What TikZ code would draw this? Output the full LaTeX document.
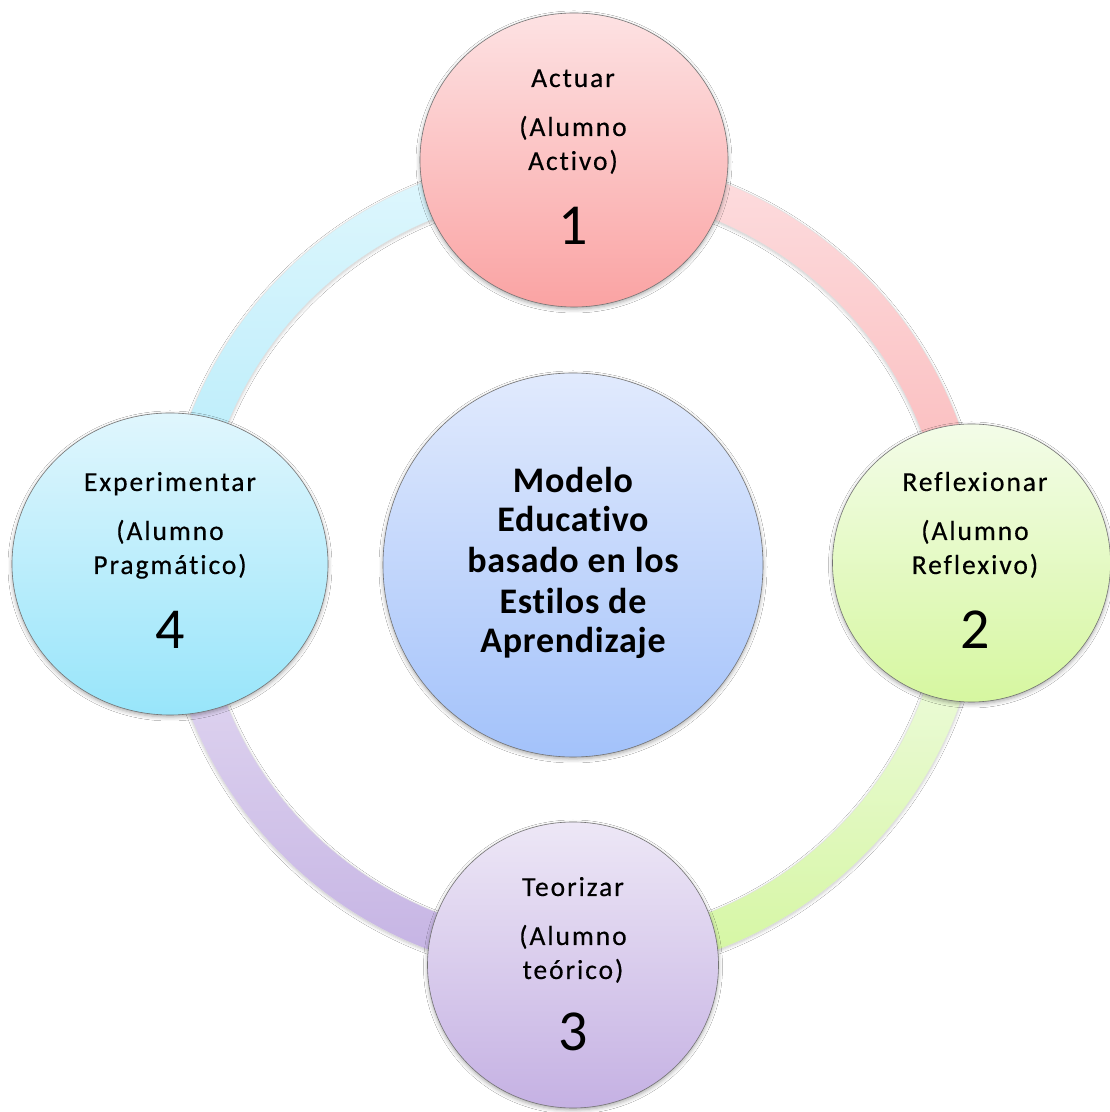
\documentclass[tikz,border=0pt]{standalone}
\usepackage{fontspec}
\setmainfont{Carlito}[Ligatures={NoCommon}]
\newfontfamily\lblfont[LetterSpace=7,FakeBold=0.4,Ligatures={NoCommon}]{Carlito}
\newfontfamily\ctrfont[LetterSpace=2,Ligatures={NoCommon}]{Carlito}
\usetikzlibrary{shapes.geometric,shadows.blur}
\definecolor{pinkT}{RGB}{253,226,227}
\definecolor{pinkB}{RGB}{250,163,163}
\definecolor{greenT}{RGB}{243,252,232}
\definecolor{greenB}{RGB}{214,247,160}
\definecolor{lilacT}{RGB}{237,231,246}
\definecolor{lilacB}{RGB}{197,177,227}
\definecolor{cyanT}{RGB}{224,246,253}
\definecolor{cyanB}{RGB}{152,229,250}
\definecolor{blueT}{RGB}{225,234,253}
\definecolor{blueB}{RGB}{163,194,250}
\definecolor{rpinkT}{RGB}{253,222,224}
\definecolor{rpinkB}{RGB}{250,180,181}
\definecolor{rgreenT}{RGB}{244,252,236}
\definecolor{rgreenB}{RGB}{212,246,160}
\definecolor{rlilacT}{RGB}{232,224,244}
\definecolor{rlilacB}{RGB}{196,178,227}
\definecolor{rcyanT}{RGB}{224,247,253}
\definecolor{rcyanB}{RGB}{176,234,250}
\begin{document}
\begin{tikzpicture}[x=1pt,y=1pt,
  bubble/.style={ellipse, inner sep=0pt, draw=black!55, line width=0.6pt,
    blur shadow={shadow xshift=0pt, shadow yshift=-2pt, shadow blur radius=4pt, shadow opacity=35}},
  ringseg/.style={draw=black!12, line width=0.4pt,
    blur shadow={shadow xshift=0pt, shadow yshift=-1.5pt, shadow blur radius=3pt, shadow opacity=22}},
  lbl/.style={anchor=base, text=black, font=\lblfont\fontsize{27.5}{30}\selectfont},
  num/.style={anchor=base, text=black, font=\fontsize{58}{60}\selectfont},
  ctr/.style={anchor=base, text=black, font=\ctrfont\bfseries\fontsize{36}{40}\selectfont}]
\fill[white] (0,0) rectangle (1110,1112);
\useasboundingbox (0,0) rectangle (1110,1112);
\coordinate (C) at (573,547);
% ring segments
\shade[ringseg, top color=rpinkT, bottom color=rpinkB]
  ([shift={(90:411)}]C) arc[start angle=90, end angle=0, radius=411]
  -- ([shift={(0:373)}]C) arc[start angle=0, end angle=90, radius=373] -- cycle;
\shade[ringseg, top color=rgreenT, bottom color=rgreenB]
  ([shift={(0:411)}]C) arc[start angle=0, end angle=-90, radius=411]
  -- ([shift={(-90:373)}]C) arc[start angle=-90, end angle=0, radius=373] -- cycle;
\shade[ringseg, top color=rlilacT, bottom color=rlilacB]
  ([shift={(-90:411)}]C) arc[start angle=-90, end angle=-180, radius=411]
  -- ([shift={(180:373)}]C) arc[start angle=180, end angle=270, radius=373] -- cycle;
\shade[ringseg, top color=rcyanT, bottom color=rcyanB]
  ([shift={(180:411)}]C) arc[start angle=180, end angle=90, radius=411]
  -- ([shift={(90:373)}]C) arc[start angle=90, end angle=180, radius=373] -- cycle;
% circles
\node[bubble, top color=blueT, bottom color=blueB, minimum width=380pt, minimum height=384pt] (center) at (573,547) {};
\node[bubble, top color=pinkT, bottom color=pinkB, minimum width=308pt, minimum height=294pt] (act) at (574,952) {};
\node[bubble, top color=greenT, bottom color=greenB, minimum width=278pt, minimum height=278pt] (ref) at (971.5,549) {};
\node[bubble, top color=lilacT, bottom color=lilacB, minimum width=291pt, minimum height=286pt] (teo) at (573,147) {};
\node[bubble, top color=cyanT, bottom color=cyanB, minimum width=316pt, minimum height=302pt] (exp) at (170,548) {};
% texts: top
\node[lbl] (actA) at (573,1025) {Actuar};
\node[lbl] (actB) at (573,976) {(Alumno};
\node[lbl] (actC) at (573,942) {Activo)};
\node[num] (actN) at (573,867) {1};
% right
\node[lbl] (refA) at (975,621) {Reflexionar};
\node[lbl] (refB) at (975,572) {(Alumno};
\node[lbl] (refC) at (975,538) {Reflexivo)};
\node[num] (refN) at (975,463) {2};
% bottom
\node[lbl] (teoA) at (573,216) {Teorizar};
\node[lbl] (teoB) at (573,167) {(Alumno};
\node[lbl] (teoC) at (573,133) {teórico)};
\node[num] (teoN) at (573,61) {3};
% left
\node[lbl] (expA) at (170,621) {Experimentar};
\node[lbl] (expB) at (170,572) {(Alumno};
\node[lbl] (expC) at (170,538) {Pragmático)};
\node[num] (expN) at (170,463) {4};
% center
\node[ctr] (c1) at (573,619) {Modelo};
\node[ctr] (c2) at (573,580) {Educativo};
\node[ctr] (c3) at (573,539) {basado en los};
\node[ctr] (c4) at (573,498) {Estilos de};
\node[ctr] (c5) at (573,459) {Aprendizaje};
\end{tikzpicture}
\end{document}
